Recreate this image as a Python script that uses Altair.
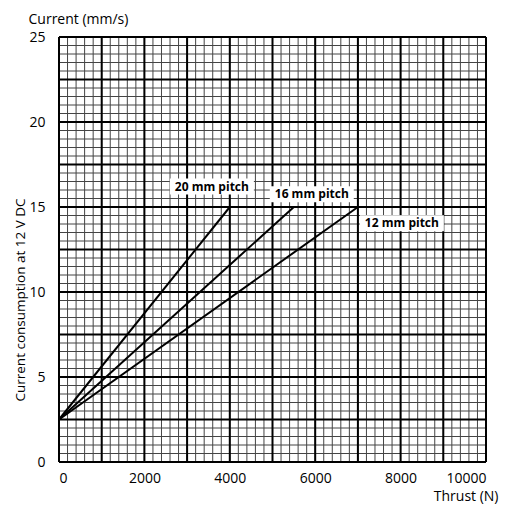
import pandas as pd
import altair as alt

# line data
pitch = ["20 mm pitch", "16 mm pitch", "12 mm pitch"]
thrust_start = [0, 0, 0]
thrust_end = [4000, 5500, 7000]
current_start = [2.5, 2.5, 2.5]
current_end = [15, 15, 15]

# where the labels sit (data units)
label_x = [3580, 5920, 8030]
label_y = [16.2, 15.75, 14.05]

# grid positions
x_minor = list(range(0, 10001, 200))
x_major = list(range(0, 10001, 1000))
y_minor = [i * 0.5 for i in range(0, 51)]
y_major = [i * 2.5 for i in range(0, 11)]

x_ticks = [0, 2000, 4000, 6000, 8000, 10000]
y_ticks = [0, 5, 10, 15, 20, 25]

FONT = "Open Sans"

xscale = alt.Scale(domain=[0, 10000], nice=False)
yscale = alt.Scale(domain=[0, 25], nice=False)

xaxis = alt.Axis(
    values=x_ticks, format="d", title="Thrust (N)", grid=False, ticks=False, domain=False,
    labelFont=FONT, labelFontSize=14, labelColor="#000", labelPadding=9,
    titleFont=FONT, titleFontSize=14, titleFontWeight="normal", titleColor="#000",
    titleX=439, titleY=34, titleAlign="right", titleBaseline="middle",
)
yaxis = alt.Axis(
    values=y_ticks, format="d", title="Current (mm/s)", grid=False, ticks=False, domain=False,
    labelFont=FONT, labelFontSize=14, labelColor="#000", labelPadding=14,
    titleFont=FONT, titleFontSize=14, titleFontWeight="normal", titleColor="#000",
    titleAngle=0, titleX=-31, titleY=-18, titleAlign="left", titleBaseline="middle",
)

X = lambda f: alt.X(f, scale=xscale, axis=xaxis)
Y = lambda f: alt.Y(f, scale=yscale, axis=yaxis)

lines = pd.DataFrame({
    "pitch": pitch,
    "x": thrust_start, "x2": thrust_end,
    "y": current_start, "y2": current_end,
})
labels = pd.DataFrame({"pitch": pitch, "x": label_x, "y": label_y})

vminor = alt.Chart(pd.DataFrame({"x": x_minor})).mark_rule(
    color="#444", strokeWidth=1
).encode(x=X("x:Q"))

hminor = alt.Chart(pd.DataFrame({"y": y_minor})).mark_rule(
    color="#444", strokeWidth=1
).encode(y=Y("y:Q"))

vmajor = alt.Chart(pd.DataFrame({"x": x_major})).mark_rule(
    color="#000", strokeWidth=2
).encode(x=X("x:Q"))

hmajor = alt.Chart(pd.DataFrame({"y": y_major})).mark_rule(
    color="#000", strokeWidth=2
).encode(y=Y("y:Q"))

pitch_lines = alt.Chart(lines).mark_rule(color="#000", strokeWidth=2).encode(
    x=X("x:Q"), x2="x2:Q", y=Y("y:Q"), y2="y2:Q",
)

label_boxes = alt.Chart(labels).mark_rect(color="white", width=84, height=16).encode(
    x=X("x:Q"), y=Y("y:Q")
)

label_text = alt.Chart(labels).mark_text(
    font=FONT, fontSize=12, fontWeight="bold", color="#000"
).encode(x=X("x:Q"), y=Y("y:Q"), text="pitch:N")

side_title = alt.Chart(pd.DataFrame({"t": ["Current consumption at 12 V DC"]})).mark_text(
    font=FONT, fontSize=13.5, angle=270, color="#000"
).encode(x=alt.value(-38), y=alt.value(263), text="t:N")

chart = alt.layer(
    vminor, hminor, vmajor, hmajor, pitch_lines, label_boxes, label_text, side_title
).properties(
    width=427, height=425,
    padding={"left": 51, "top": 29, "right": 20, "bottom": 50},
    autosize=alt.AutoSizeParams(type="none"),
).configure_view(stroke=None)

chart.save("out.html", embed_options={"renderer": "svg", "actions": False})
